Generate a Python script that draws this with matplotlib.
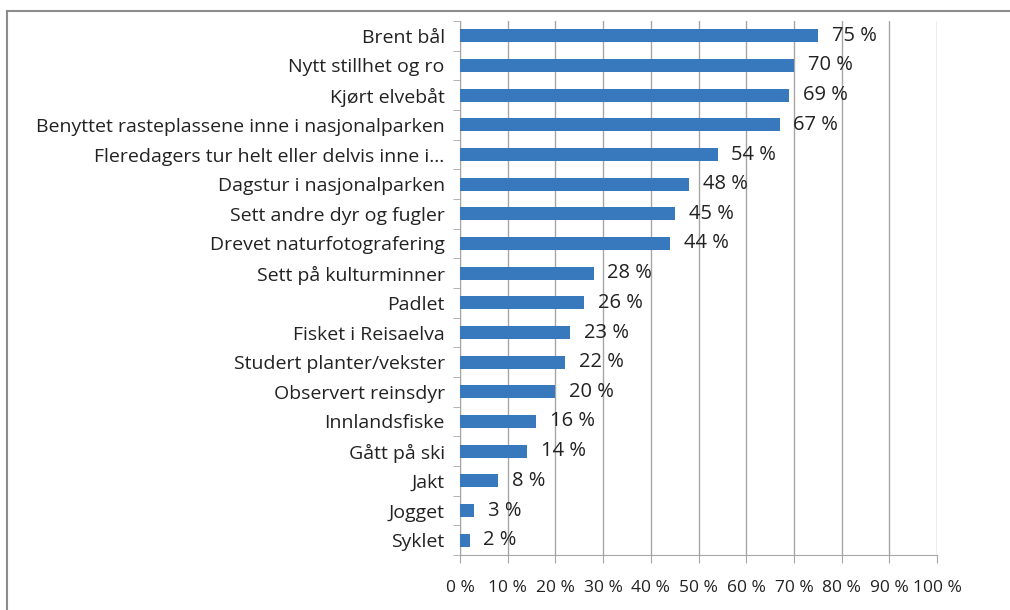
import matplotlib.pyplot as plt
from matplotlib.lines import Line2D

categories = [
    "Brent bål",
    "Nytt stillhet og ro",
    "Kjørt elvebåt",
    "Benyttet rasteplassene inne i nasjonalparken",
    "Fleredagers tur helt eller delvis inne i...",
    "Dagstur i nasjonalparken",
    "Sett andre dyr og fugler",
    "Drevet naturfotografering",
    "Sett på kulturminner",
    "Padlet",
    "Fisket i Reisaelva",
    "Studert planter/vekster",
    "Observert reinsdyr",
    "Innlandsfiske",
    "Gått på ski",
    "Jakt",
    "Jogget",
    "Syklet",
]
values = [75, 70, 69, 67, 54, 48, 45, 44, 28, 26, 23, 22, 20, 16, 14, 8, 3, 2]
xticks = list(range(0, 101, 10))
xticklabels = [f"{v} %" for v in xticks]

plt.rcParams['font.family'] = ['Open Sans', 'DejaVu Sans']
fig = plt.figure(figsize=(10.1, 6.1), dpi=100)
ax = fig.add_axes([460/1010, 1 - 555/610, 477/1010, 534/610])

grid_c = '#a6a6a6'
bar_c = '#3878bd'
txt_c = '#222222'
ypos = list(range(len(categories)))
ax.barh(ypos, values, height=0.44, color=bar_c, zorder=3)
for y, v in zip(ypos, values):
    ax.annotate(f"{v} %", (v, y), xytext=(10, 0), textcoords='offset points',
                va='center', ha='left', fontsize=14.5, color=txt_c, zorder=4)

ax.set_xlim(0, 100)
ax.set_ylim(len(categories) - 0.5, -0.5)
ax.set_xticks(xticks)
ax.set_xticklabels(xticklabels, fontsize=12.5, color=txt_c)
ax.set_yticks(ypos)
ax.set_yticklabels(categories, fontsize=14, color=txt_c)
ax.set_yticks([i - 0.5 for i in range(len(categories) + 1)], minor=True)
ax.tick_params(axis='y', which='major', length=0, pad=11)
ax.tick_params(axis='y', which='minor', length=5, color=grid_c, direction='out')
ax.tick_params(axis='x', length=6, color=grid_c, pad=12)
ax.xaxis.grid(True, color=grid_c, linewidth=1, zorder=0)
for s in ['top', 'right']:
    ax.spines[s].set_visible(False)
for s in ['left', 'bottom']:
    ax.spines[s].set_color(grid_c)

# outer frame
fig.add_artist(Line2D([7/1010, 1.0], [1 - 10.5/610] * 2, color='#8c8c8c', linewidth=1.5))
fig.add_artist(Line2D([7/1010] * 2, [0.0, 1 - 10.5/610], color='#8c8c8c', linewidth=1.5))

fig.savefig('out.png', dpi=100)
